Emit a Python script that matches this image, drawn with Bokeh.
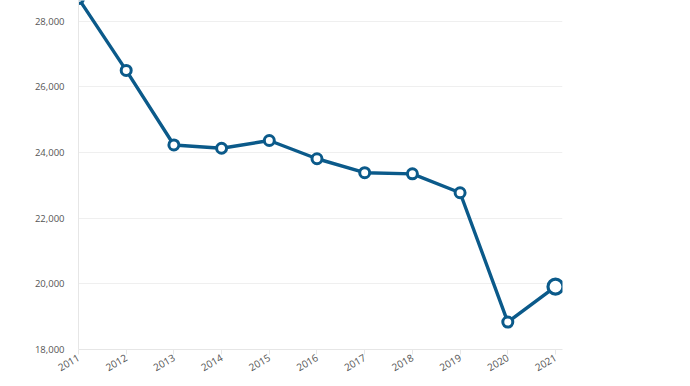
import math
from bokeh.plotting import figure
from bokeh.models import ColumnDataSource, Range1d, FixedTicker, NumeralTickFormatter
from bokeh.embed import file_html
from bokeh.resources import INLINE

years = [2011, 2012, 2013, 2014, 2015, 2016, 2017, 2018, 2019, 2020, 2021]
values = [28690, 26500, 24230, 24130, 24365, 23810, 23385, 23350, 22775, 18835, 19915]
y_ticks = [18000, 20000, 22000, 24000, 26000, 28000]

LINE = "#0b5a8a"
FONT = "Open Sans"

p = figure(width=690, height=386, output_backend="svg", toolbar_location=None,
           x_range=Range1d(2011, 2021.147), y_range=Range1d(18000, 28630),
           min_border_left=78, min_border_right=128, min_border_top=0, min_border_bottom=37)
p.outline_line_color = None
p.background_fill_color = "white"
p.border_fill_color = "white"

src = ColumnDataSource(dict(x=years, y=values))
p.line("x", "y", source=src, line_color=LINE, line_width=3.4)
p.scatter("x", "y", source=ColumnDataSource(dict(x=years[:-1], y=values[:-1])),
          size=10, fill_color="white", line_color=LINE, line_width=3)
p.scatter("x", "y", source=ColumnDataSource(dict(x=years[-1:], y=values[-1:])),
          size=15, fill_color="white", line_color=LINE, line_width=3.2)

# x axis
p.xaxis.ticker = FixedTicker(ticks=years)
p.xaxis.major_label_orientation = math.pi / 6
p.xaxis.axis_line_color = "#e6e6e6"
p.xaxis.major_tick_line_color = "#e6e6e6"
p.xaxis.major_tick_out = 5
p.xaxis.major_tick_in = 0
p.xaxis.minor_tick_line_color = None
p.xaxis.major_label_standoff = 2
p.xaxis.major_label_text_font = FONT
p.xaxis.major_label_text_font_size = "10px"
p.xaxis.major_label_text_color = "#555555"
p.xgrid.grid_line_color = None

# y axis
p.yaxis.ticker = FixedTicker(ticks=y_ticks)
p.yaxis.formatter = NumeralTickFormatter(format="0,0")
p.yaxis.axis_line_color = "#e6e6e6"
p.yaxis.major_tick_line_color = None
p.yaxis.minor_tick_line_color = None
p.yaxis.major_label_standoff = 8
p.yaxis.major_label_text_font = FONT
p.yaxis.major_label_text_font_size = "9.5px"
p.yaxis.major_label_text_color = "#555555"
p.ygrid.grid_line_color = "#efefef"
p.ygrid.grid_line_width = 1

open("out.html", "w").write(file_html(p, INLINE))
